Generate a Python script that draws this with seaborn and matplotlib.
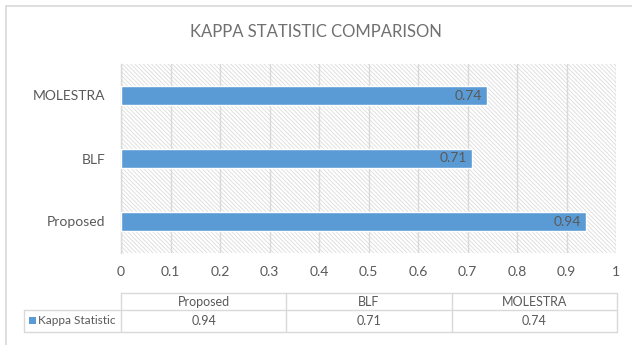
import matplotlib
matplotlib.use("Agg")
import matplotlib.pyplot as plt
from matplotlib.patches import Rectangle
import seaborn as sns
import pandas as pd

# Kappa statistic per method
methods = ["Proposed", "BLF", "MOLESTRA"]
kappa = [0.94, 0.71, 0.74]
series_name = "Kappa Statistic"
x_ticks = [0, 0.1, 0.2, 0.3, 0.4, 0.5, 0.6, 0.7, 0.8, 0.9, 1]
x_tick_labels = ["0", "0.1", "0.2", "0.3", "0.4", "0.5", "0.6", "0.7", "0.8", "0.9", "1"]

BAR = "#5B9BD5"
TEXT = "#595959"
LINE = "#D9D9D9"

sns.set_theme(style="white")
plt.rcParams["font.family"] = ["Lato", "DejaVu Sans"]
plt.rcParams["hatch.linewidth"] = 0.6

W, H = 632, 345
fig = plt.figure(figsize=(W / 100, H / 100), dpi=100)
fig.patch.set_facecolor("white")

# overlay in pixel coordinates for the chart frame and the data table
bg = fig.add_axes([0, 0, 1, 1], zorder=-1)
bg.set_xlim(0, W)
bg.set_ylim(H, 0)
bg.axis("off")
bg.plot([6, 6], [6, H + 5], color=LINE, lw=1.2)
bg.plot([6, W + 5], [6, 6], color=LINE, lw=1.2)

# main bar chart
left, right, top, bottom = 121, 616, 64, 253
ax = fig.add_axes([left / W, 1 - bottom / H, (right - left) / W, (bottom - top) / H])
df = pd.DataFrame({"method": methods, "kappa": kappa})
order = methods[::-1]
ax.add_patch(Rectangle((0, 0), 1, 1, transform=ax.transAxes, facecolor="white",
                       edgecolor="#DCDCDC", hatch="\\\\\\\\\\\\\\\\", lw=0, zorder=0))
sns.barplot(data=df, x="kappa", y="method", order=order, orient="h", color=BAR,
            saturation=1, width=0.286, ax=ax, zorder=3)
ax.set_xlim(0, 1)
ax.set_ylim(len(order) - 0.5, -0.5)
ax.set_xlabel("")
ax.set_ylabel("")
ax.set_xticks(x_ticks)
ax.set_xticklabels(x_tick_labels)
ax.set_axisbelow(True)
ax.xaxis.grid(True, color=LINE, lw=1)
ax.yaxis.grid(False)
for s in ["top", "right", "bottom"]:
    ax.spines[s].set_visible(False)
ax.spines["left"].set_color(LINE)
ax.spines["left"].set_linewidth(1)
ax.tick_params(axis="x", length=0, pad=9, labelsize=10, labelcolor=TEXT)
ax.tick_params(axis="y", which="major", length=0, pad=11, labelsize=10, labelcolor=TEXT)
ax.set_yticks([i + 0.5 for i in range(-1, len(order))], minor=True)
ax.tick_params(axis="y", which="minor", length=4, color=LINE, width=1)

for i, m in enumerate(order):
    v = kappa[methods.index(m)]
    ax.annotate(f"{v:.2f}", xy=(v, i), xytext=(-4, 0), textcoords="offset points",
                ha="right", va="center", fontsize=10, color=TEXT, zorder=4)

fig.text(0.5, 1 - 32 / H, "KAPPA STATISTIC COMPARISON", ha="center", va="center",
         fontsize=12, color="#707070")

# data table under the axis
t_left, t_right = 121, 617
row0, row1, row2 = 293, 310, 332
leg_left = 24
col_w = (t_right - t_left) / len(methods)
lk = dict(color=LINE, lw=1)
bg.plot([t_left, t_right], [row0, row0], **lk)
bg.plot([leg_left, t_right], [row1, row1], **lk)
bg.plot([leg_left, t_right], [row2, row2], **lk)
bg.plot([leg_left, leg_left], [row1, row2], **lk)
for j in range(len(methods) + 1):
    x = t_left + j * col_w
    bg.plot([x, x], [row0, row2], **lk)
for j, (m, v) in enumerate(zip(methods, kappa)):
    cx = t_left + (j + 0.5) * col_w
    bg.text(cx, (row0 + row1) / 2, m, ha="center", va="center", fontsize=9, color=TEXT)
    bg.text(cx, (row1 + row2) / 2, f"{v:.2f}", ha="center", va="center", fontsize=9, color=TEXT)
bg.add_patch(Rectangle((29, 317), 7, 7, facecolor=BAR, edgecolor="none"))
bg.text(38, (row1 + row2) / 2, series_name, ha="left", va="center", fontsize=8.5, color=TEXT)

fig.savefig("out.png", dpi=100, facecolor="white")
